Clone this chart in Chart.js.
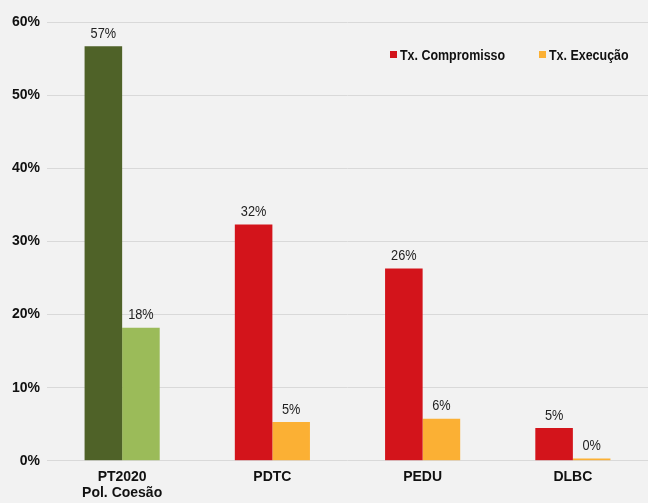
<!DOCTYPE html>
<html>
<head>
<meta charset="utf-8">
<script src="https://cdn.jsdelivr.net/npm/chart.js@4"></script>
<style>
  html, body { margin: 0; padding: 0; background: #f2f2f2; }
  #wrap { position: relative; width: 648px; height: 503px; overflow: hidden; }
  .lg {
    position: absolute; top: 47px;
    font: bold 15px "Liberation Sans", Arial, sans-serif;
    color: #111; white-space: nowrap; line-height: 16px;
  }
  .lg i { position: absolute; left: 0; top: 4px; width: 7px; height: 7px; }
  .lg span { position: absolute; left: 10px; top: 0; transform: scaleX(0.83); transform-origin: left top; }
</style>
</head>
<body>
<div id="wrap">
  <canvas id="chart" width="648" height="503"></canvas>
  <div class="lg" style="left:390px"><i style="background:#d3141b"></i><span id="lg0"></span></div>
  <div class="lg" style="left:539px"><i style="background:#fbb034"></i><span id="lg1"></span></div>
</div>
<script>
'use strict';

// data
const categories = [['PT2020', 'Pol. Coesão'], 'PDTC', 'PEDU', 'DLBC'];
const compromisso = [56.7, 32.3, 26.3, 4.5];
const execucao = [18.2, 5.3, 5.75, 0.3];
const seriesNames = ['Tx. Compromisso', 'Tx. Execução'];

const FONT = '"Liberation Sans", Arial, sans-serif';

document.getElementById('lg0').textContent = seriesNames[0];
document.getElementById('lg1').textContent = seriesNames[1];

// value labels above the bars (slightly condensed like the original)
const barLabels = {
  id: 'barLabels',
  afterDatasetsDraw(chart) {
    const ctx = chart.ctx;
    chart.data.datasets.forEach(function(ds, i) {
      chart.getDatasetMeta(i).data.forEach(function(bar, j) {
        ctx.save();
        ctx.font = '15px ' + FONT;
        ctx.fillStyle = '#222';
        ctx.textAlign = 'center';
        ctx.textBaseline = 'bottom';
        ctx.translate(bar.x, bar.y - 5);
        ctx.scale(0.85, 1);
        ctx.fillText(Math.round(ds.data[j]) + '%', 0, 0);
        ctx.restore();
      });
    });
  }
};

new Chart(document.getElementById('chart'), {
  type: 'bar',
  data: {
    labels: categories,
    datasets: [{
      label: seriesNames[0],
      data: compromisso,
      backgroundColor: ['#4f6228', '#d3141b', '#d3141b', '#d3141b']
    }, {
      label: seriesNames[1],
      data: execucao,
      backgroundColor: ['#9bbb59', '#fbb034', '#fbb034', '#fbb034']
    }]
  },
  options: {
    responsive: false,
    animation: false,
    layout: { padding: { top: 22, left: 5, right: 0, bottom: 2 } },
    datasets: { bar: { barPercentage: 1, categoryPercentage: 0.5 } },
    plugins: { legend: { display: false }, tooltip: { enabled: false } },
    scales: {
      x: {
        grid: { display: false },
        border: { display: false },
        ticks: { color: '#111', font: { family: FONT, size: 14, weight: 'bold', lineHeight: 1.15 }, padding: 0 }
      },
      y: {
        min: 0, max: 60,
        grid: { color: '#d9d9d9', drawTicks: false },
        border: { display: false },
        ticks: {
          stepSize: 10,
          padding: 7,
          color: '#111',
          font: { family: FONT, size: 14, weight: 'bold' },
          callback: function(v) { return v + '%'; }
        }
      }
    }
  },
  plugins: [barLabels]
});
</script>
</body>
</html>
